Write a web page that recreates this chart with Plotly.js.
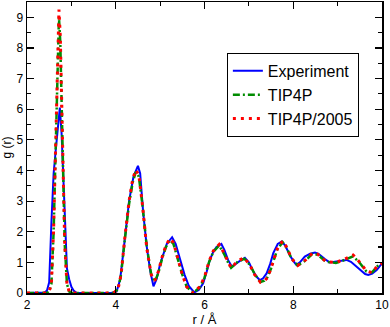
<!DOCTYPE html>
<html>
<head>
<meta charset="utf-8">
<script src="https://cdn.plot.ly/plotly-3.0.1.min.js"></script>
<style>
  html, body { margin: 0; padding: 0; background: #fff; }
  #gr-plot { width: 390px; height: 327px; }
</style>
</head>
<body>
<div id="gr-plot"></div>
<script>
// experimental g(r)
const rExp = [2.0, 2.4, 2.45, 2.5, 2.55, 2.6, 2.65, 2.7, 2.74, 2.78, 2.82, 2.86, 2.9, 2.95, 3.0, 3.05, 3.12, 3.5, 3.9,
  4.02, 4.1, 4.2, 4.3, 4.4, 4.5, 4.55, 4.62, 4.7, 4.78, 4.85, 4.92, 5.0, 5.08, 5.15, 5.27, 5.35, 5.45, 5.55, 5.65,
  5.77, 5.87, 5.97, 6.05, 6.12, 6.2, 6.27, 6.38, 6.45, 6.53, 6.62, 6.75, 6.91, 7.0, 7.1, 7.18, 7.25, 7.32, 7.4,
  7.48, 7.55, 7.65, 7.74, 7.82, 7.92, 8.0, 8.07, 8.15, 8.26, 8.38, 8.49, 8.57, 8.64, 8.72, 8.82, 8.95, 9.05, 9.2,
  9.3, 9.43, 9.55, 9.62, 9.69, 9.78, 9.88, 10.0];
const gExp = [0, 0.02, 0.08, 0.35, 2.3, 3.9, 4.7, 5.6, 6.05, 5.2, 3.6, 2.0, 0.8, 0.45, 0.2, 0.08, 0, 0, 0,
  0.05, 0.45, 1.7, 3.0, 3.8, 4.15, 3.9, 2.6, 1.5, 0.7, 0.22, 0.45, 0.95, 1.3, 1.6, 1.82, 1.6, 1.1, 0.6, 0.22,
  0.02, 0.1, 0.32, 0.7, 1.08, 1.35, 1.5, 1.6, 1.4, 1.08, 0.86, 1.0, 1.15, 1.0, 0.7, 0.52, 0.42, 0.48, 0.64,
  0.95, 1.3, 1.6, 1.68, 1.55, 1.24, 1.05, 0.92, 1.0, 1.19, 1.28, 1.32, 1.28, 1.19, 1.1, 1.0, 1.02, 1.05, 1.08,
  1.02, 0.86, 0.7, 0.62, 0.59, 0.63, 0.75, 0.97];

// simulation grid (both models)
const rSim = [2.0, 2.45, 2.5, 2.55, 2.6, 2.65, 2.7, 2.72, 2.75, 2.8, 2.85, 2.9, 2.95, 3.0, 3.5, 3.95, 4.05, 4.12,
  4.2, 4.3, 4.38, 4.45, 4.52, 4.6, 4.7, 4.8, 4.88, 4.96, 5.05, 5.13, 5.22, 5.3, 5.4, 5.5, 5.6, 5.75, 5.9, 6.0,
  6.1, 6.2, 6.33, 6.45, 6.53, 6.6, 6.75, 6.9, 7.04, 7.13, 7.26, 7.35, 7.42, 7.5, 7.64, 7.76, 7.86, 7.96, 8.1,
  8.28, 8.43, 8.55, 8.74, 8.96, 9.12, 9.25, 9.35, 9.5, 9.65, 9.78, 9.9, 10.0];
const gTip4p = [0, 0, 0.05, 0.3, 2.0, 5.2, 8.6, 9.0, 8.2, 4.6, 1.6, 0.3, 0.05, 0, 0, 0, 0.12, 0.6,
  1.7, 2.9, 3.6, 3.95, 3.8, 2.9, 1.5, 0.6, 0.37, 0.65, 1.15, 1.5, 1.73, 1.6, 1.1, 0.6, 0.2, 0.0, 0.2, 0.5,
  1.0, 1.35, 1.55, 1.25, 1.0, 0.82, 1.02, 1.12, 0.88, 0.62, 0.36, 0.4, 0.52, 0.8, 1.42, 1.66, 1.45, 1.13, 0.9,
  1.06, 1.28, 1.25, 1.02, 0.98, 1.06, 1.15, 1.2, 0.98, 0.7, 0.68, 0.88, 0.97];
const gTip4p2005 = [0, 0, 0.05, 0.3, 2.1, 5.4, 8.8, 9.25, 8.4, 4.7, 1.6, 0.3, 0.05, 0, 0, 0, 0.12, 0.6,
  1.75, 3.0, 3.7, 4.02, 3.85, 2.9, 1.45, 0.6, 0.4, 0.7, 1.2, 1.55, 1.78, 1.65, 1.12, 0.6, 0.2, 0.0, 0.22, 0.52,
  1.02, 1.38, 1.58, 1.28, 1.02, 0.82, 1.05, 1.15, 0.86, 0.6, 0.35, 0.4, 0.5, 0.81, 1.44, 1.7, 1.48, 1.13, 0.9,
  1.08, 1.3, 1.27, 1.02, 1.0, 1.08, 1.18, 1.24, 1.0, 0.72, 0.66, 0.9, 0.97];

const traces = [
  {
    x: rExp, y: gExp, name: 'Experiment', mode: 'lines',
    line: { color: '#0000ff', width: 2 }
  },
  {
    x: rSim, y: gTip4p, name: 'TIP4P', mode: 'lines',
    line: { color: '#008c00', width: 2.5, dash: '7px,3px,2px,3px' }
  },
  {
    x: rSim, y: gTip4p2005, name: 'TIP4P/2005', mode: 'lines',
    line: { color: '#ff0000', width: 3, dash: '3px,5px' }
  }
];

const axisCommon = {
  showgrid: false,
  zeroline: false,
  showline: true,
  linecolor: '#000',
  linewidth: 1.5,
  mirror: 'ticks',
  ticks: 'inside',
  ticklen: 7,
  tickwidth: 1.2,
  tickcolor: '#000',
  tickfont: { family: 'Liberation Sans, Arial, sans-serif', size: 12, color: '#000' }
};

const layout = {
  width: 390,
  height: 327,
  margin: { l: 27, r: 8, t: 2, b: 34 },
  paper_bgcolor: '#fff',
  plot_bgcolor: '#fff',
  showlegend: true,
  font: { family: 'Liberation Sans, Arial, sans-serif', color: '#000' },
  xaxis: Object.assign({}, axisCommon, {
    range: [2, 10],
    dtick: 2,
    tick0: 2,
    minor: { dtick: 1, ticks: 'inside', ticklen: 4, tickcolor: '#000', showgrid: false },
    title: { text: 'r / Å', font: { size: 13 }, standoff: 4 }
  }),
  yaxis: Object.assign({}, axisCommon, {
    range: [0, 9.5],
    dtick: 1,
    tick0: 0,
    minor: { dtick: 0.5, ticks: 'inside', ticklen: 4, tickcolor: '#000', showgrid: false },
    title: { text: 'g (r)', font: { size: 12 }, standoff: 4 }
  }),
  legend: {
    x: 0.563, y: 0.825,
    xanchor: 'left', yanchor: 'top',
    bgcolor: '#fff',
    bordercolor: '#000',
    borderwidth: 1,
    font: { size: 16, color: '#000' },
    tracegroupgap: 0,
    itemwidth: 30
  }
};

Plotly.newPlot('gr-plot', traces, layout, { displayModeBar: false, staticPlot: true });
</script>
</body>
</html>
